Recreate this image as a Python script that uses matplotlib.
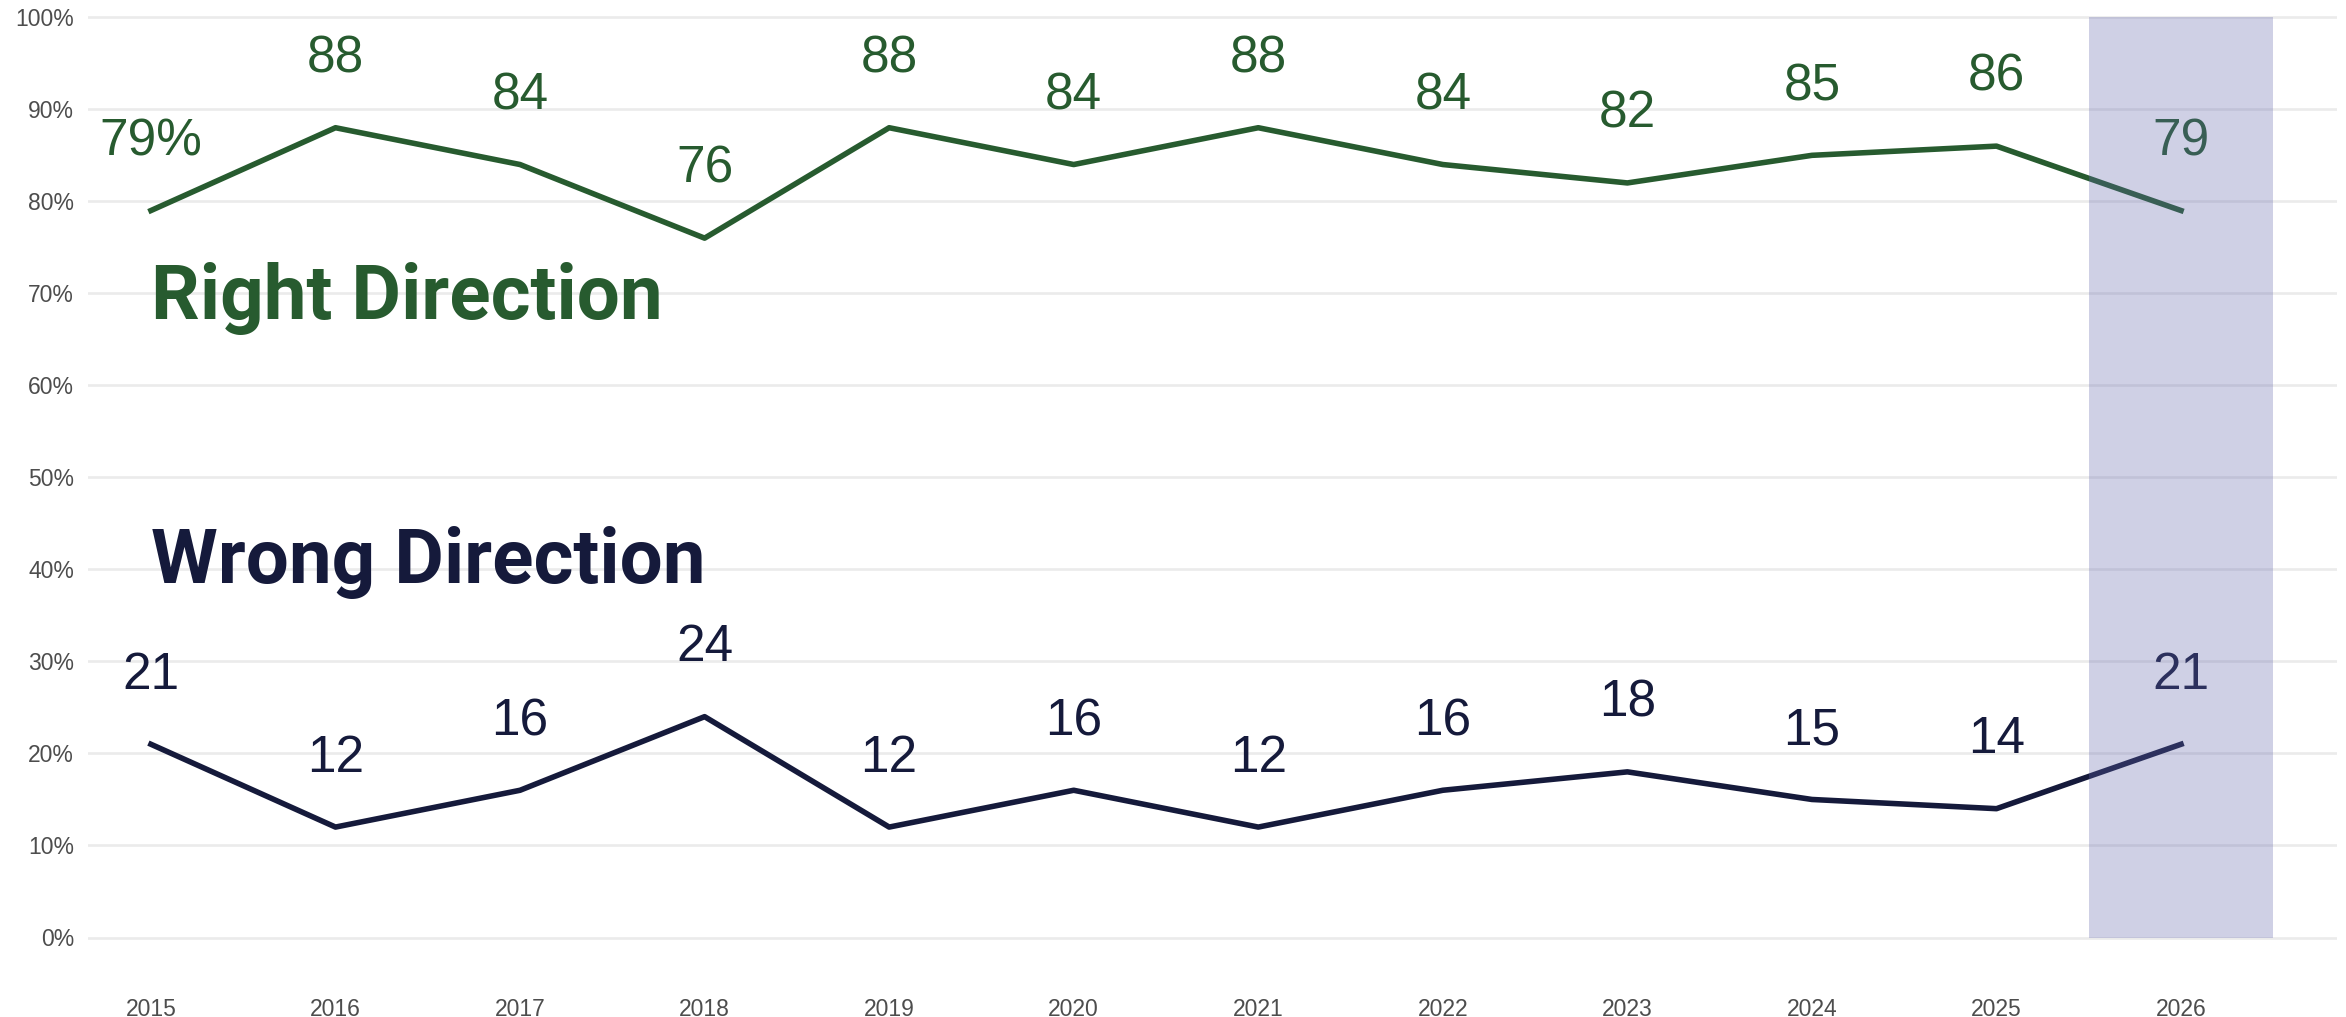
import matplotlib
matplotlib.use("Agg")
import matplotlib.pyplot as plt

years = [2015, 2016, 2017, 2018, 2019, 2020, 2021, 2022, 2023, 2024, 2025, 2026]
right_dir = [79, 88, 84, 76, 88, 84, 88, 84, 82, 85, 86, 79]
wrong_dir = [21, 12, 16, 24, 12, 16, 12, 16, 18, 15, 14, 21]
y_ticks = [0, 10, 20, 30, 40, 50, 60, 70, 80, 90, 100]

green = "#275b2f"
navy = "#151a3b"
tick_col = "#4d4d4d"

W, H = 2346, 1017
fig = plt.figure(figsize=(W / 100, H / 100), dpi=100)

# axes placed in pixels so the grid lands where the reference has it
ymin, ymax = -2, 101
px_per = 920.2 / 100
bottom_px = 937.5 + (0 - ymin) * px_per
top_px = 17.3 - (ymax - 100) * px_per
ax = fig.add_axes([88 / W, (H - bottom_px) / H, (2337 - 88) / W, (bottom_px - top_px) / H])
ax.set_xlim(2014.659, 2026.845)
ax.set_ylim(ymin, ymax)

for s in ax.spines.values():
    s.set_visible(False)

for v in y_ticks:
    ax.axhline(v, color="#ebebeb", lw=1.9, zorder=0)

ax.plot(years, right_dir, color=green, lw=4.0, zorder=3)
ax.plot(years, wrong_dir, color=navy, lw=4.0, zorder=3)

lab_font = dict(fontsize=37, family="Liberation Sans", ha="center", va="baseline", zorder=4)
for i, (x, r, w) in enumerate(zip(years, right_dir, wrong_dir)):
    ax.text(x, r + 6, f"{r}%" if i == 0 else str(r), color=green, **lab_font)
    ax.text(x, w + 6, str(w), color=navy, **lab_font)

ax.text(2015, 67.2, "Right Direction", color=green, fontsize=55, fontweight="bold",
        family="Roboto", ha="left", va="baseline", zorder=4)
ax.text(2015, 38.5, "Wrong Direction", color=navy, fontsize=55, fontweight="bold",
        family="Roboto", ha="left", va="baseline", zorder=4)

# highlight for the latest year, drawn on top like a translucent overlay
ax.fill_between([2025.5, 2026.5], 0, 100, color="#6266ac", alpha=0.3, lw=0, zorder=5)

ax.set_xticks(years)
ax.set_xticklabels([str(y) for y in years])
ax.set_yticks(y_ticks)
ax.set_yticklabels([f"{v}%" for v in y_ticks])
ax.tick_params(length=0, labelsize=16.5, labelcolor=tick_col)
ax.tick_params(axis="x", pad=30)
ax.tick_params(axis="y", pad=10)
for lbl in ax.get_xticklabels() + ax.get_yticklabels():
    lbl.set_family("Liberation Sans")

fig.savefig("out.png", dpi=100, facecolor="white")
